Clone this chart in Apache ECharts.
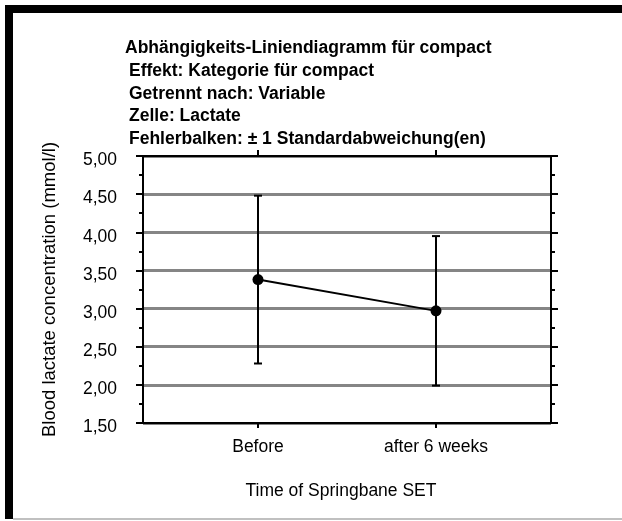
<!DOCTYPE html>
<html>
<head>
<meta charset="utf-8">
<script src="https://cdn.jsdelivr.net/npm/echarts@6/dist/echarts.min.js"></script>
<style>html,body{margin:0;padding:0;background:#fff;}#c{width:622px;height:521px;}</style>
</head>
<body>
<div id="c"></div>
<script>
const categories = ['Before', 'after 6 weeks'];
const means = [3.38, 2.97];
const sds = [1.10, 0.98];
const titleLines = [
  'Abhängigkeits-Liniendiagramm für compact',
  'Effekt: Kategorie für compact',
  'Getrennt nach: Variable',
  'Zelle: Lactate',
  'Fehlerbalken: ± 1 Standardabweichung(en)'
];
const yAxisName = 'Blood lactate concentration (mmol/l)';
const xAxisName = 'Time of Springbane SET';

const FONT = '"Liberation Sans", Arial, sans-serif';
const catIdx = categories.map((c, i) => i);
const lineData = means.map((m, i) => [i, m]);
const errData = means.map((m, i) => [i, m - sds[i], m + sds[i]]);

const chart = echarts.init(document.getElementById('c'), null, {renderer: 'canvas'});
const xBase = {
  type: 'value', min: -0.646, max: 1.646, gridIndex: 0,
  splitLine: {show: false},
  axisLine: {show: true, onZero: false, lineStyle: {color: '#000', width: 2}},
  axisTick: {show: true, customValues: catIdx, length: 5, lineStyle: {color: '#000', width: 2}}
};
const yBase = {
  type: 'value', min: 1.5, max: 5, interval: 0.5,
  axisLine: {show: true, onZero: false, lineStyle: {color: '#000', width: 2}},
  axisTick: {show: true, length: 7, lineStyle: {color: '#000', width: 2}},
  minorTick: {show: true, splitNumber: 2, length: 4, lineStyle: {color: '#000', width: 2}}
};
const titleStyle = {fontFamily: FONT, fontSize: 17.5, fontWeight: 'bold', color: '#000', lineHeight: 22.5};
chart.setOption({
  backgroundColor: '#fff',
  animation: false,
  title: [
    {text: titleLines[0], left: 125, top: 37, padding: 0, textStyle: titleStyle},
    {text: titleLines.slice(1).join('\n'), left: 129, top: 60, padding: 0, textStyle: titleStyle}
  ],
  graphic: [
    {type: 'rect', shape: {x: 5, y: 5, width: 617, height: 8}, style: {fill: '#000'}, z: 100},
    {type: 'rect', shape: {x: 5, y: 5, width: 8, height: 514}, style: {fill: '#000'}, z: 100},
    {type: 'rect', shape: {x: 13, y: 518, width: 609, height: 2}, style: {fill: '#c0c0c0'}, z: 100}
  ],
  grid: {left: 143, right: 71, top: 156, bottom: 98, containLabel: false},
  xAxis: [
    Object.assign({}, xBase, {
      position: 'bottom',
      name: xAxisName, nameLocation: 'middle', nameGap: 59,
      nameTextStyle: {fontFamily: FONT, fontSize: 17.5, color: '#000', padding: [0, 12, 0, 0]},
      axisLabel: {show: true, customValues: catIdx, margin: 15,
        fontFamily: FONT, fontSize: 17.5, color: '#000',
        formatter: v => categories[Math.round(v)]}
    }),
    Object.assign({}, xBase, {position: 'top', axisLabel: {show: false},
      axisTick: {show: true, customValues: catIdx, length: 6, lineStyle: {color: '#000', width: 2}}})
  ],
  yAxis: [
    Object.assign({}, yBase, {
      position: 'left',
      name: yAxisName, nameLocation: 'middle', nameGap: 84,
      nameTextStyle: {fontFamily: FONT, fontSize: 18.5, color: '#000'},
      axisLabel: {show: true, margin: 26, color: '#000',
        formatter: v => '{a|' + v.toFixed(2).replace('.', ',') + '}',
        rich: {a: {fontFamily: FONT, fontSize: 17.5, color: '#000', padding: [9, 0, 0, 0]}}},
      splitLine: {show: true, lineStyle: {color: '#858585', width: 3}}
    }),
    Object.assign({}, yBase, {position: 'right', axisLabel: {show: false}, splitLine: {show: false}})
  ],
  series: [
    {
      type: 'custom', xAxisIndex: 0, yAxisIndex: 0, z: 3,
      data: errData,
      renderItem: function (params, api) {
        const x = api.value(0);
        const lo = api.coord([x, api.value(1)]);
        const hi = api.coord([x, api.value(2)]);
        const w = 4;
        const st = {stroke: '#000', lineWidth: 2};
        return {type: 'group', children: [
          {type: 'line', shape: {x1: lo[0], y1: lo[1], x2: hi[0], y2: hi[1]}, style: st},
          {type: 'line', shape: {x1: lo[0] - w, y1: lo[1], x2: lo[0] + w, y2: lo[1]}, style: st},
          {type: 'line', shape: {x1: hi[0] - w, y1: hi[1], x2: hi[0] + w, y2: hi[1]}, style: st}
        ]};
      }
    },
    {
      type: 'line', xAxisIndex: 0, yAxisIndex: 0, z: 5,
      data: lineData,
      symbol: 'circle', symbolSize: 11,
      lineStyle: {color: '#000', width: 2},
      itemStyle: {color: '#000'}
    }
  ]
});
</script>
</body>
</html>
